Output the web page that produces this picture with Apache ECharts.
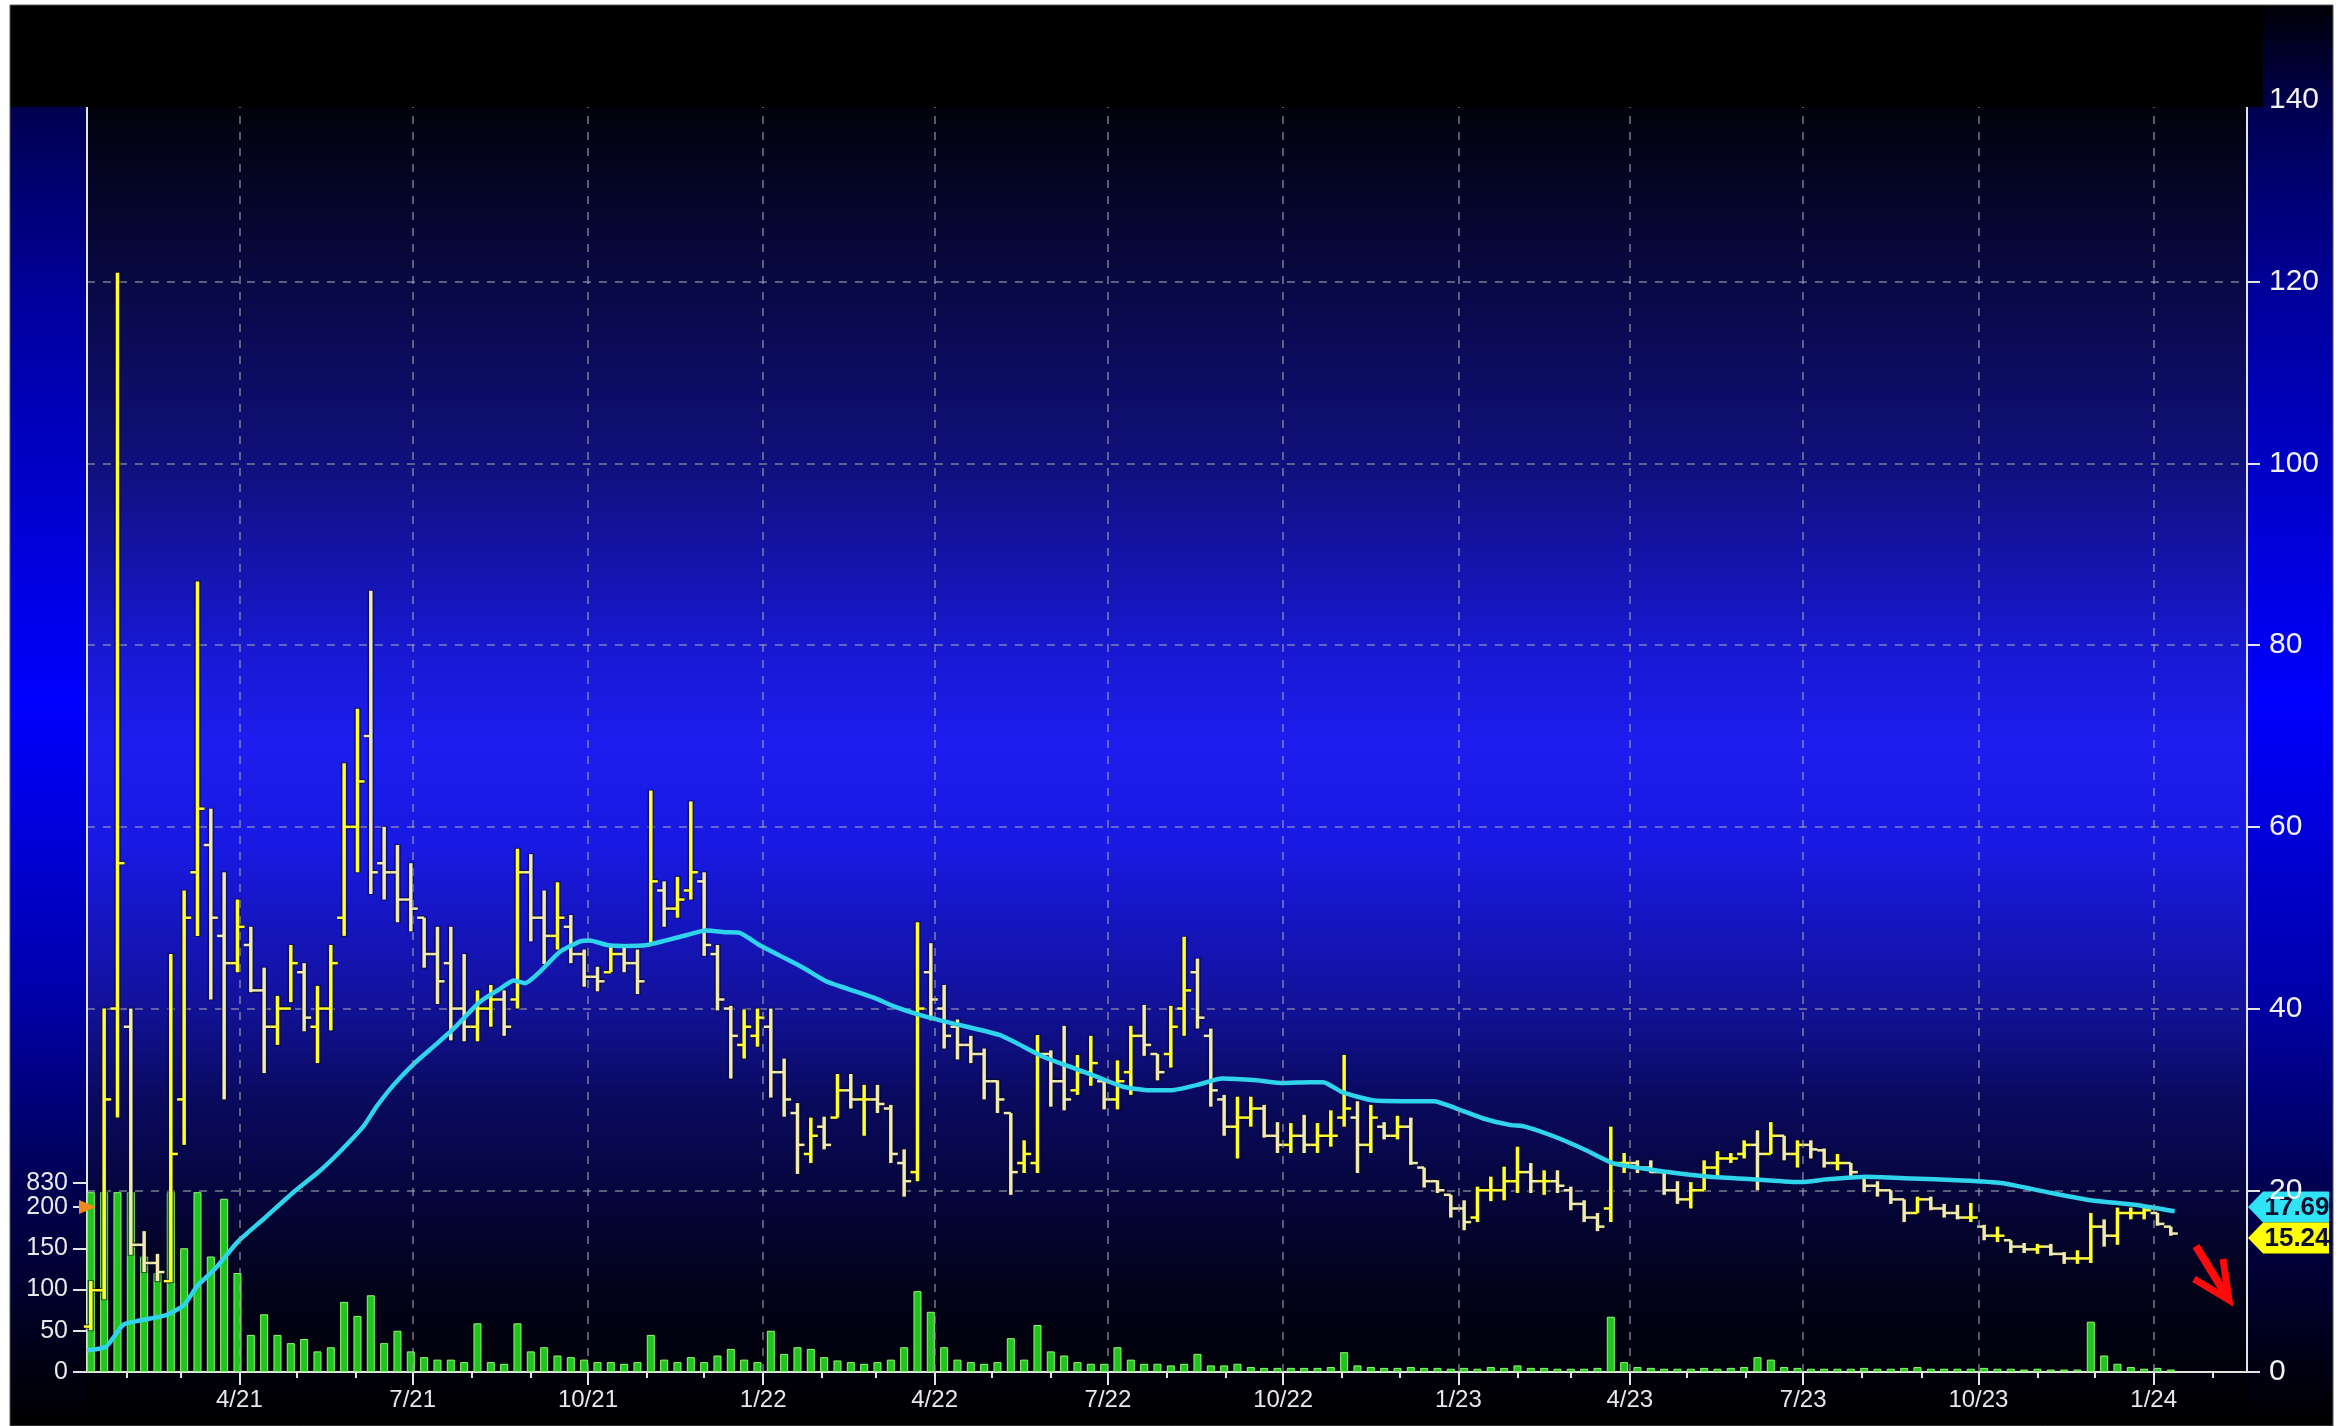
<!DOCTYPE html>
<html>
<head>
<meta charset="utf-8">
<script src="https://cdn.jsdelivr.net/npm/echarts@6/dist/echarts.min.js"></script>
<style>
html,body{margin:0;padding:0;background:#ffffff;}
#chart{width:2338px;height:1426px;}
</style>
</head>
<body>
<div id="chart"></div>
<script>
// ---------------- DATA ----------------
// Weekly bars; first bar is the week of 2021-01-11 (plotted mid-week)
const firstWeekMid = '2021-01-13';

// [open, high, low, close] per week
const ohlc2021 = [
  [5,10,4.6,9],[9,40,8,30],[40,121,28,56],[38,40,12.9,14],[14,15.5,11,12],[12,13,10,11],[10,46,9.9,24],
  [30,53,25,50],[55,87,48,62],[58,62,41,50],[48,55,30,45],[45,52,44,49],
  [47,49,41.8,42],[42,44.5,32.9,38],[38,41.4,36,40],[40,47,40.7,45],
  [44,45,37.5,39],[38,42.5,34,40],[40,47,37.6,45],[50,67,48,60],[60,73,55,65],
  [70,86,52.6,55],[56,60,52,55],[55,58,49.5,52],[52,56,48.5,51],
  [50,50,44.5,46],[46,49,40.5,43],[45,49,36.5,40],[40,46,36.4,38],
  [38,42,36.4,40],[40,42.6,38,41],[41,42,37,38],[41,57.6,40,55],[55,57,47.4,50],
  [50,53,44.9,48],[48,53.9,46.5,50],[49,50.3,45,46],[46,46.5,42.4,43.5],
  [43.5,44.6,41.9,43],[44,47,44,46],[46,47.1,44,45],[45,46.5,41.6,43],
  [47,64,47,54],[53,54,49,51],[51,54.5,50,52],[53,62.8,52,55],[54,55,45.8,47],
  [46,47,39.8,41],[40,40.3,32.3,37],[36,39.9,34.5,38],[37,40,35.8,39]
];
const ohlc2022 = [
  [38,40,30.2,33],[33,34.5,28.1,30],[28.5,29.6,21.8,25],[24,28,23,26],[27,28.1,24.5,25],
  [28,32.8,28,31],[31,32.8,29,30],[30,31.6,26,30],[30,31.6,28.5,29.5],
  [29,29.4,23,24],[23,24.5,19.3,21],[22,49.5,21,40],[44,47.2,38.7,41],
  [40,42.6,35.6,37],[38,38.8,34.4,36],[36,37,34,35],[35,35.6,30,32],
  [32,32.1,28.5,30],[28.5,28.5,19.5,22],[23,25.5,21.9,24],[23,37.1,21.9,35],[35,35.4,29.2,32],
  [32,38.1,28.8,30],[31,34.9,30.5,33],[33,37,31.5,34],[32,32.1,28.9,30],
  [30,34.3,28.9,32],[33,38.1,30.5,37],[37,40.4,34.8,36],[35,35,32.1,33],
  [35,40.3,33.5,38],[40,47.9,37,42],[44,45.5,37.8,39],[37,37.8,29.2,31],[30,30.5,26,27],
  [27,30.3,23.5,28],[28,30.3,27,29],[29,29.4,25.8,26],[26,27.5,24.1,25],
  [25,27.4,24.1,26],[26,28.3,24.1,25],[25,27.4,24.1,26],[26,28.8,24.8,26],[28,34.9,27,29],
  [28,29.8,21.9,25],[25,29.4,24.1,28],[27,27.5,25.6,26],[26,28.2,25.6,27],
  [27,28,22.8,23],[22.5,22.5,20.3,21],[21,21.1,19.7,20],[19.5,19.5,17,18]
];
const ohlc2023 = [
  [18,18.9,15.6,16.5],[17,20.4,16.5,20],[20,21.5,18.8,20],[20,22.6,18.9,21],[21,24.8,19.7,22],
  [22,23,19.7,21],[21,22.2,19.5,21],[21,22.2,19.7,20.5],[20,20.4,17.8,18.5],
  [18.5,18.9,16.5,17],[17,17.5,15.5,16],[18,27,16.5,23],[23,24.1,21.9,23],
  [23,23.3,21.9,22.5],[22.5,23.3,21.9,22],[22,22.2,19.5,20],[20,21,18.5,19],
  [19,20.9,18,20],[20,23.3,20,22.5],[22.5,24.3,21.5,23.5],[23.5,24.1,23,23.5],[24,25.5,23.5,25],
  [25,26.6,20,24],[24,27.5,24,26],[26,26,23.3,24],[24,25.5,22.5,25],
  [25,25.5,23.5,24.5],[24.4,24.6,22.5,23],[23,24,22.2,23],[23,23,21.5,22],[21.5,21.5,19.8,20.5],
  [20.5,21,19.3,20],[20,20,18.5,19],[19,19,16.5,17.5],[17.5,19.3,17.5,19],
  [19,19.3,17.8,18],[18,18.5,17,17.5],[17.5,18.4,16.8,17],[17,18.6,16.5,17],
  [16,16.2,14.5,15],[15,16,14.3,15],[14.5,14.5,13.1,13.8],[13.8,14.2,13.1,13.5],[13.5,14.1,13,13.8],
  [13.8,14.1,12.8,13],[13,13.2,11.9,12.5],[12.5,13.4,11.9,12.5],[12.5,17.5,12,16],
  [16,16.8,13.8,15],[15,18.1,14,17.5],[17.5,18.1,16.8,17.5],[17.5,18.1,16.8,17.8]
];
const ohlc2024 = [[17.5,17.5,16.1,16.3],[16,16,15,15.24]];

// weekly volume (typical daily level of that week, axis units)
const vol2021 = [240,420,830,310,140,120,260,150,280,140,210,120,45,70,45,35,40,25,30,85,68,93,35,50,25,
  18,15,15,12,59,12,10,59,25,30,20,18,15,12,12,10,12,45,15,12,18,12,20,28,15,12];
const vol2022 = [50,22,30,28,18,14,12,10,12,15,30,98,73,30,15,12,10,12,41,15,57,25,20,12,10,10,
  30,15,10,10,8,10,22,8,8,10,6,5,5,5,5,5,6,24,8,6,5,5,6,5,5,4];
const vol2023 = [5,4,6,5,8,5,5,4,4,4,5,67,12,6,5,4,4,4,5,4,5,6,18,15,6,5,4,4,4,4,5,4,4,5,6,
  4,4,4,4,5,4,4,3,4,3,3,3,61,20,10,6,4];
const vol2024 = [5,3];

// 200-day moving average (cyan)
const maDates = ['2021-01-11','2021-01-21','2021-01-30','2021-02-06','2021-02-22','2021-03-03','2021-03-10','2021-03-19','2021-03-31','2021-04-14','2021-04-30','2021-05-13','2021-05-24','2021-06-05','2021-06-12','2021-06-21','2021-07-02','2021-07-14','2021-07-24','2021-08-05','2021-08-16','2021-08-23','2021-08-29','2021-09-06','2021-09-16','2021-09-27','2021-10-02','2021-10-11','2021-10-21','2021-11-01','2021-11-11','2021-11-22','2021-12-02','2021-12-13','2021-12-20','2021-12-30',
  '2022-01-10','2022-01-22','2022-02-03','2022-02-14','2022-02-28','2022-03-10','2022-03-24','2022-04-04','2022-04-18','2022-05-05','2022-05-14','2022-05-28','2022-06-11','2022-06-25','2022-07-09','2022-07-23','2022-08-03','2022-08-17','2022-08-30','2022-09-17','2022-10-01','2022-10-15','2022-10-22','2022-11-01','2022-11-17','2022-12-05','2022-12-19','2022-12-31',
  '2023-01-14','2023-01-28','2023-02-05','2023-02-23','2023-03-09','2023-03-23','2023-04-08','2023-04-25','2023-05-13','2023-06-06','2023-06-30','2023-07-13','2023-08-03','2023-08-27','2023-09-20','2023-10-13','2023-11-06','2023-11-29','2023-12-22','2024-01-12'];
const maValues = [2.4,2.8,5.2,5.6,6.3,7.4,9.5,11.3,14.3,16.9,19.9,22.1,24.3,27.0,29.2,31.6,34.0,36.2,38.1,40.7,42.2,43.1,42.8,44.1,46.2,47.4,47.5,47.0,46.9,47.0,47.5,48.1,48.6,48.4,48.3,47.0,
  45.8,44.5,43.0,42.2,41.2,40.3,39.3,38.7,38.0,37.1,36.2,34.7,33.6,32.5,31.4,31.0,31.0,31.6,32.3,32.1,31.8,31.9,31.9,30.8,29.9,29.8,29.8,29.0,
  27.9,27.2,27.0,25.7,24.4,23.0,22.4,21.9,21.5,21.2,20.9,21.2,21.5,21.3,21.1,20.8,19.8,18.9,18.4,17.69];

// axes
const xStart = '2021-01-11', xEnd = '2024-02-19';
const quarterTicks = ['2021-04-01','2021-07-01','2021-10-01','2022-01-01','2022-04-01','2022-07-01','2022-10-01','2023-01-01','2023-04-01','2023-07-01','2023-10-01','2024-01-01'];
const priceTicks = [0,20,40,60,80,100,120,140];
const volumeTicks = [0,50,100,150,200];
const volumeTopLabel = '830';

// ---------------- BUILD ----------------
const DAY = 86400000;
const T = s => Date.parse(s);
const ohlc = [...ohlc2021, ...ohlc2022, ...ohlc2023, ...ohlc2024];
const volumes = [...vol2021, ...vol2022, ...vol2023, ...vol2024];
const t0 = T(firstWeekMid);
const weekTimes = ohlc.map((_, i) => t0 + i * 7 * DAY);
const priceData = ohlc.map((r, i) => [weekTimes[i], r[0], r[1], r[2], r[3]]);
const VOL_CLIP = 218;         // volume above this is clipped (broken axis)
const VOL_BREAK_POS = 229;    // position of the "830" label on the broken axis
const volumeData = volumes.map((v, i) => [weekTimes[i], Math.min(v, VOL_CLIP)]);
const maData = maDates.map((d, i) => [T(d), maValues[i]]);
const qTimes = quarterTicks.map(T);
const monthTimes = [];
for (let y = 2021; y <= 2024; y++) for (let m = 0; m < 12; m++) {
  const t = Date.UTC(y, m, 1);
  if (t > T(xStart) && t < T(xEnd)) monthTimes.push(t);
}
const FONT = "'Liberation Sans', Arial, sans-serif";
const AXIS_COL = '#e4e4e4';
const GRID_LINE = {type: [8, 8], color: 'rgba(160,160,175,0.75)', width: 1.5};
const fmtDate = v => { const d = new Date(v); return (d.getUTCMonth() + 1) + '/' + String(d.getUTCFullYear()).slice(2); };

function renderOHLC(params, api) {
  const t = api.value(0);
  const x = api.coord([t, api.value(1)])[0];
  const yo = api.coord([t, api.value(1)])[1];
  const yh = api.coord([t, api.value(2)])[1];
  const yl = api.coord([t, api.value(3)])[1];
  const yc = api.coord([t, api.value(4)])[1];
  const up = api.value(4) >= api.value(1);
  const col = up ? '#ffff2e' : '#f0eab0';
  const sh = 'rgba(10,10,20,0.55)';
  const L = (x1, y1, x2, y2, c, w) => ({type: 'line', shape: {x1, y1, x2, y2}, style: {stroke: c, lineWidth: w}});
  return {type: 'group', children: [
    L(x, yh - 1, x, yl + 1, sh, 6.5), L(x - 7, yo, x, yo, sh, 5), L(x, yc, x + 7, yc, sh, 5),
    L(x, yh, x, yl, col, 3.5), L(x - 7, yo, x, yo, col, 2.5), L(x, yc, x + 7, yc, col, 2.5)
  ]};
}

const chart = echarts.init(document.getElementById('chart'), null, {renderer: 'canvas'});
chart.setOption({
  animation: false,
  backgroundColor: '#ffffff',
  grid: {left: 87, right: 91, top: 100, bottom: 54},
  xAxis: [{
    type: 'value', min: T(xStart), max: T(xEnd), position: 'bottom',
    axisLine: {show: true, lineStyle: {color: AXIS_COL, width: 2}},
    axisTick: {show: true, customValues: qTimes, length: 13, lineStyle: {color: AXIS_COL, width: 2}},
    axisLabel: {show: true, customValues: qTimes, formatter: fmtDate, color: '#e8e8e8', fontSize: 24, fontFamily: FONT, margin: 16},
    splitLine: {show: false}
  }, {
    type: 'value', min: T(xStart), max: T(xEnd), position: 'bottom', offset: 0,
    axisLine: {show: false},
    axisTick: {show: true, customValues: monthTimes, length: 6, lineStyle: {color: AXIS_COL, width: 2}},
    axisLabel: {show: false},
    splitLine: {show: false}
  }],
  yAxis: [{
    type: 'value', position: 'right', min: 0, max: 140, interval: 20,
    axisLine: {show: true, lineStyle: {color: AXIS_COL, width: 2}},
    axisTick: {show: true, length: 13, lineStyle: {color: AXIS_COL, width: 2}},
    axisLabel: {color: '#f2f2f2', fontSize: 30, fontFamily: FONT, margin: 22,
      customValues: priceTicks},
    splitLine: {show: true, lineStyle: GRID_LINE}
  }, {
    type: 'value', position: 'left', min: 0, max: 1542,
    axisLine: {show: true, lineStyle: {color: AXIS_COL, width: 2}},
    axisTick: {show: true, length: 14, customValues: [...volumeTicks, VOL_BREAK_POS], lineStyle: {color: AXIS_COL, width: 2}},
    axisLabel: {color: '#e8e8e8', fontSize: 25, fontFamily: FONT, margin: 19,
      customValues: volumeTicks},
    splitLine: {show: false}
  }],
  series: [{
    name: 'grid', type: 'line', xAxisIndex: 0, yAxisIndex: 0, z: 1,
    data: [], showSymbol: false,
    markLine: {silent: true, symbol: 'none', label: {show: false}, lineStyle: GRID_LINE,
      data: qTimes.map(t => ({xAxis: t}))}
  }, {
    name: 'Volume', type: 'bar', xAxisIndex: 0, yAxisIndex: 1, z: 2,
    data: volumeData, barWidth: 8,
    itemStyle: {color: '#22c422', borderColor: '#92f872', borderWidth: 1}
  }, {
    name: 'Price', type: 'custom', xAxisIndex: 0, yAxisIndex: 0, z: 3,
    renderItem: renderOHLC, data: priceData, encode: {x: 0, y: [1, 2, 3, 4]}
  }, {
    name: 'MA', type: 'line', xAxisIndex: 0, yAxisIndex: 0, z: 4,
    data: maData, showSymbol: false, smooth: 0.2,
    lineStyle: {color: '#2fd4ec', width: 4.5}
  }]
});

// ---------- decorations (background panels, header, value tags, arrow) ----------
const maLast = maValues[maValues.length - 1];
const closeLast = ohlc[ohlc.length - 1][3];
let yMa = chart.convertToPixel({yAxisIndex: 0}, maLast);
let yPx = chart.convertToPixel({yAxisIndex: 0}, closeLast);
const TAG_H = 31;
if (Math.abs(yMa - yPx) < TAG_H) { const mid = (yMa + yPx) / 2; yMa = mid - TAG_H / 2; yPx = mid + TAG_H / 2; }
const axisX = chart.convertToPixel({xAxisIndex: 0}, T(xEnd));
const leftAxisX = chart.convertToPixel({xAxisIndex: 0}, T(xStart));
const yBreak = chart.convertToPixel({yAxisIndex: 1}, VOL_BREAK_POS);
function tag(id, y, fill, text) {
  const h = TAG_H / 2, x0 = axisX + 1;
  return {type: 'group', id, z: 120, children: [
    {type: 'polygon', shape: {points: [[x0, y], [x0 + 15, y - h], [x0 + 81, y - h], [x0 + 81, y + h], [x0 + 15, y + h]]}, style: {fill}},
    {type: 'text', style: {text, x: x0 + 49, y: y + 1, fill: '#0c1030', font: '600 26px ' + FONT, align: 'center', verticalAlign: 'middle'}}
  ]};
}
const grad = (stops) => new echarts.graphic.LinearGradient(0, 0, 0, 1, stops.map(s => ({offset: s[0], color: s[1]})));
chart.setOption({
  graphic: [
    {type: 'rect', id: 'sidebg', z: -20, silent: true, shape: {x: 10, y: 5, width: 2323, height: 1421},
      style: {fill: grad([[0, '#000006'], [0.072, '#000050'], [0.21, '#00009e'], [0.49, '#0000ff'], [0.70, '#0000a8'], [0.84, '#00004c'], [0.96, '#000012'], [1, '#000000']])}},
    {type: 'rect', id: 'plotbg', z: -19, silent: true, shape: {x: 87, y: 107, width: 2160, height: 1319},
      style: {fill: grad([[0, '#02020c'], [0.108, '#07073a'], [0.27, '#10107c'], [0.41, '#1818d2'], [0.48, '#1d1dee'], [0.56, '#1919e4'], [0.68, '#12129a'], [0.75, '#0a0a60'], [0.83, '#05053a'], [0.9, '#020218'], [1, '#000000']])}},
    {type: 'rect', id: 'header', z: 110, silent: true, shape: {x: 10, y: 5, width: 2253, height: 102}, style: {fill: '#000000'}},
    {type: 'rect', id: 'frame', z: 111, silent: true, shape: {x: 10, y: 5, width: 2323, height: 1421}, style: {fill: null, stroke: '#5a5a5a', lineWidth: 1}},
    {type: 'text', id: 'volTop', z: 112, silent: true, style: {text: volumeTopLabel, x: leftAxisX - 19, y: yBreak, fill: '#e8e8e8', font: '25px ' + FONT, align: 'right', verticalAlign: 'middle'}},
    {type: 'polygon', id: 'flag', z: 115, silent: true, shape: {points: [[79, 1200], [96, 1207], [79, 1214]]}, style: {fill: '#f08a1c'}},
    tag('tagMa', yMa, '#2fe2f4', maLast.toFixed(2)),
    tag('tagPx', yPx, '#ffff00', closeLast.toFixed(2)),
    {type: 'line', id: 'arrowShaft', z: 120, silent: true, shape: {x1: 2196, y1: 1246, x2: 2226, y2: 1295}, style: {stroke: '#ff0a0a', lineWidth: 8}},
    {type: 'polyline', id: 'arrowHead', z: 120, silent: true, shape: {points: [[2223, 1259], [2229, 1300], [2194, 1279]]}, style: {stroke: '#ff0a0a', lineWidth: 7, fill: null, lineJoin: 'miter'}}
  ]
});
</script>
</body>
</html>
